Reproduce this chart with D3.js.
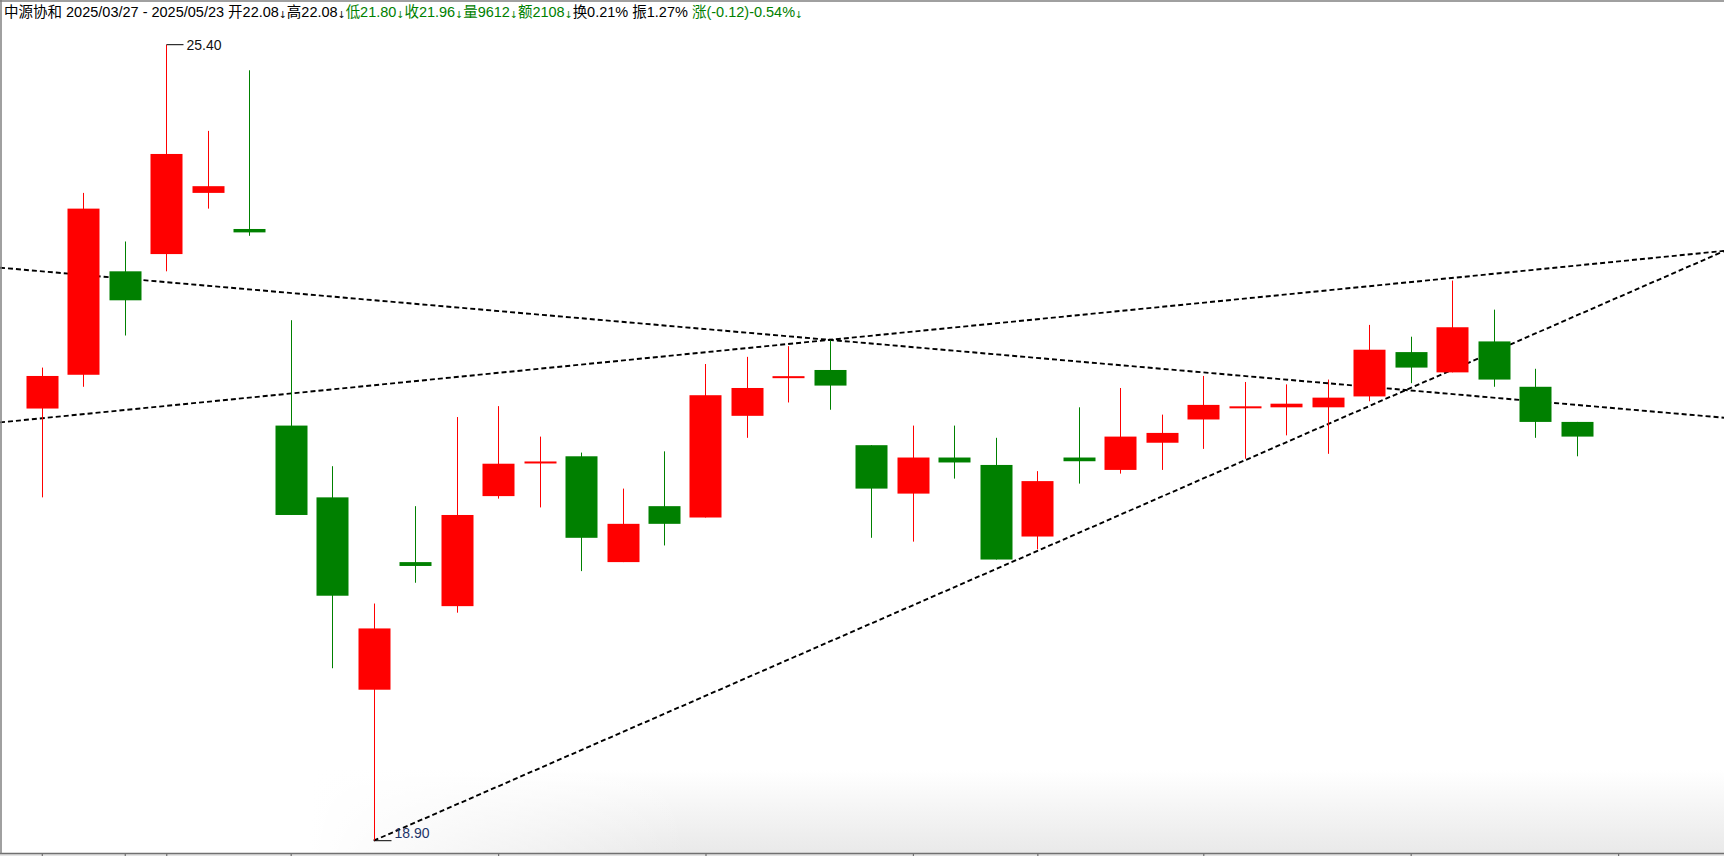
<!DOCTYPE html>
<html><head><meta charset="utf-8">
<script src="https://cdn.jsdelivr.net/npm/d3@7"></script>
<style>
html,body{margin:0;padding:0;background:#fff;overflow:hidden;}
svg{display:block;}
</style></head>
<body>
<svg id="chart" width="1724" height="856"></svg>
<script>
// ---- data ----
const dates = ["2025/03/27","2025/03/28","2025/03/31","2025/04/01","2025/04/02","2025/04/03","2025/04/07","2025/04/08","2025/04/09","2025/04/10","2025/04/11","2025/04/14","2025/04/15","2025/04/16","2025/04/17","2025/04/18","2025/04/21","2025/04/22","2025/04/23","2025/04/24","2025/04/25","2025/04/28","2025/04/29","2025/04/30","2025/05/06","2025/05/07","2025/05/08","2025/05/09","2025/05/12","2025/05/13","2025/05/14","2025/05/15","2025/05/16","2025/05/19","2025/05/20","2025/05/21","2025/05/22","2025/05/23"];
const opens  = [22.19,22.47,23.35,23.50,24.04,23.72,22.05,21.47,19.99,20.96,20.62,21.48,21.75,21.80,20.96,21.40,21.31,22.13,22.45,22.51,21.89,21.50,21.79,21.73,21.16,21.79,21.69,21.91,22.10,22.20,22.20,22.20,22.29,22.66,22.49,22.75,22.37,22.08];
const highs  = [22.53,24.04,23.61,25.40,24.60,25.16,22.93,21.72,20.64,21.40,22.12,22.21,21.96,21.83,21.54,21.84,22.56,22.62,22.71,22.76,21.89,22.05,22.05,21.95,21.68,22.20,22.36,22.14,22.46,22.41,22.39,22.43,22.89,22.79,23.27,23.02,22.52,22.08];
const lows   = [21.47,22.37,22.80,23.35,23.90,23.66,21.33,20.15,18.90,20.80,20.57,21.46,21.39,20.89,20.96,21.09,21.31,21.95,22.24,22.18,21.15,21.12,21.62,20.98,21.06,21.58,21.66,21.69,21.86,21.78,21.97,21.82,22.25,22.40,22.49,22.37,21.95,21.80];
const closes = [22.46,23.90,23.10,24.39,24.10,23.69,21.33,20.70,20.45,20.93,21.33,21.74,21.75,21.15,21.26,21.26,22.30,22.36,22.45,22.38,21.54,21.79,21.75,20.98,21.60,21.76,21.96,21.99,22.22,22.20,22.23,22.28,22.68,22.53,22.87,22.43,22.08,21.96];

// axis ticks (slot index, date label; last slot is the next trading day)
const tickSlots  = [0,2,3,6,11,16,21,24,28,33,38];
const tickLabels = ["03/27","03/31","04/01","04/07","04/14","04/21","04/28","05/06","05/12","05/19","05/26"];

// trend lines: two anchors (slot, price); extendLeft flag
const trendA = [[0,23.35],[37,22.22]];
const trendB = [[0,22.11],[37,23.40]];
const trendC = [[8,18.90],[37,22.97]];
const trendExtendLeft = [true,true,false];

// extreme markers
const maxMark = {slot:3, price:25.40, label:"25.40"};
const minMark = {slot:8, price:18.90, label:"18.90"};

// header segments
const headerParts = [
  {t:"中源协和 2025/03/27 - 2025/05/23 ", c:"#000"},
  {t:"开22.08", c:"#000"}, {t:"↓", c:"#000", a:1},
  {t:"高22.08", c:"#000"}, {t:"↓", c:"#000", a:1},
  {t:"低21.80", c:"#008000"}, {t:"↓", c:"#008000", a:1},
  {t:"收21.96", c:"#008000"}, {t:"↓", c:"#008000", a:1},
  {t:"量9612", c:"#008000"}, {t:"↓", c:"#008000", a:1},
  {t:"额2108", c:"#008000"}, {t:"↓", c:"#008000", a:1},
  {t:"换0.21% 振1.27% ", c:"#000"},
  {t:"涨(-0.12)-0.54%", c:"#008000"}, {t:"↓", c:"#008000", a:1}
];

// ---- drawing ----
const W = 1724, H = 856;
const svg = d3.select("#chart");
const defs = svg.append("defs");

const vg = defs.append("linearGradient").attr("id","vgrad").attr("x1",0).attr("y1",0).attr("x2",0).attr("y2",1);
vg.append("stop").attr("offset","0%").attr("stop-color","#ffffff");
vg.append("stop").attr("offset","100%").attr("stop-color","#e9e9e9");
const hg = defs.append("linearGradient").attr("id","hgrad").attr("x1",0).attr("y1",0).attr("x2",1).attr("y2",0);
hg.append("stop").attr("offset","0%").attr("stop-color","#ffffff").attr("stop-opacity",1);
hg.append("stop").attr("offset","18%").attr("stop-color","#ffffff").attr("stop-opacity",1);
hg.append("stop").attr("offset","40%").attr("stop-color","#ffffff").attr("stop-opacity",0);
hg.append("stop").attr("offset","100%").attr("stop-color","#ffffff").attr("stop-opacity",0);

const axisY = 853.5;
svg.append("rect").attr("x",0).attr("y",0).attr("width",W).attr("height",H).attr("fill","#fff");
svg.append("rect").attr("x",0).attr("y",770).attr("width",W).attr("height",axisY-770).attr("fill","url(#vgrad)");
svg.append("rect").attr("x",0).attr("y",770).attr("width",W).attr("height",axisY-770).attr("fill","url(#hgrad)");
svg.append("rect").attr("x",0).attr("y",axisY).attr("width",W).attr("height",H-axisY).attr("fill","#e4e4e4");

const x = d3.scaleLinear().domain([0,37]).range([41.8,1576.6]);
const y = d3.scaleLog().domain([18.90,25.40]).range([840.7,44.7]);
const step = x(1)-x(0);
const bw = Math.round(step*0.77);

const data = dates.map((d,i)=>({d,i,o:opens[i],h:highs[i],l:lows[i],c:closes[i]}));

// trend lines
const tg = svg.append("g");
[trendA,trendB,trendC].forEach((tl,k)=>{
  const x1=x(tl[0][0]), y1=y(tl[0][1]), x2=x(tl[1][0]), y2=y(tl[1][1]);
  const s=(y2-y1)/(x2-x1);
  const xs = trendExtendLeft[k] ? 0 : x1;
  const xe = W;
  tg.append("line").attr("x1",xs).attr("y1",y1+s*(xs-x1)).attr("x2",xe).attr("y2",y1+s*(xe-x1))
    .attr("stroke","#000").attr("stroke-width",1.9).attr("stroke-dasharray","5,3");
});

// candles
const cg = svg.append("g");
const col = d => d.c>=d.o ? "#ff0000" : "#008000";
const cs = cg.selectAll("g.c").data(data).join("g");
cs.append("line")
  .attr("x1",d=>Math.round(x(d.i))+0.5).attr("x2",d=>Math.round(x(d.i))+0.5)
  .attr("y1",d=>y(d.h)).attr("y2",d=>y(d.l))
  .attr("stroke",col).attr("stroke-width",1);
cs.append("rect")
  .attr("x",d=>Math.round(x(d.i))+0.5-bw/2)
  .attr("width",bw)
  .attr("y",d=>{const t=y(Math.max(d.o,d.c)), b=y(Math.min(d.o,d.c)); return (b-t)<2 ? (t+b)/2-1 : t;})
  .attr("height",d=>{const t=y(Math.max(d.o,d.c)), b=y(Math.min(d.o,d.c)); return Math.max(2,b-t);})
  .attr("fill",col);

// extreme markers
function mark(m, below){
  const mx = Math.round(x(m.slot))+0.5, my = y(m.price);
  svg.append("line").attr("x1",mx).attr("x2",mx+17).attr("y1",my).attr("y2",my).attr("stroke","#000").attr("stroke-width",1);
  svg.append("text").attr("x",mx+20).attr("y", below ? my-3 : my+5)
    .attr("font-family","'Liberation Sans', Arial, sans-serif").attr("font-size",14)
    .attr("fill", below ? "#1e3468" : "#111").text(m.label);
}
mark(maxMark,false);
mark(minMark,true);

// bottom axis (tick marks only, labels fall outside the picture)
const axis = d3.axisBottom(x).tickValues(tickSlots).tickFormat("").tickSizeInner(6).tickSizeOuter(0);
const ag = svg.append("g").attr("transform",`translate(0,${axisY})`).call(axis);
ag.select(".domain").attr("d",`M0,0H${W}`).attr("stroke","#707070").attr("stroke-width",1.5);
ag.selectAll(".tick line").attr("stroke","#707070").attr("stroke-width",1.2);

// frame
svg.append("line").attr("x1",0).attr("x2",W).attr("y1",1).attr("y2",1).attr("stroke","#808080").attr("stroke-width",1.5);
svg.append("line").attr("x1",1).attr("x2",1).attr("y1",0).attr("y2",axisY).attr("stroke","#808080").attr("stroke-width",1.5);

// header
const ht = svg.append("text").attr("x",4).attr("y",17)
  .attr("font-family","'Liberation Sans', Arial, 'Noto Sans CJK SC', sans-serif").attr("font-size",14.5);
let prevArrow=false;
headerParts.forEach(p=>{
  const ts = ht.append("tspan").attr("fill",p.c).text(p.t);
  if(p.a){ ts.attr("font-size",9.5).attr("font-family","'DejaVu Sans', sans-serif").attr("dy",1); prevArrow=true; }
  else { ts.attr("dy", prevArrow ? -1 : 0); prevArrow=false; }
});
</script>
</body></html>
